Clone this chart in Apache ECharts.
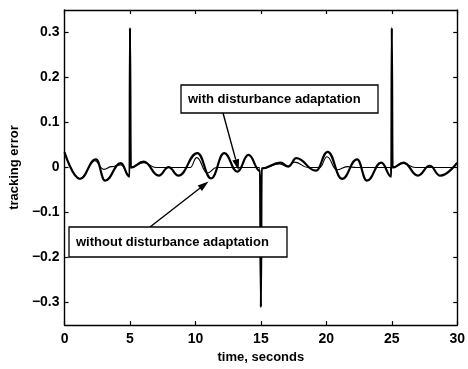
<!DOCTYPE html>
<html><head><meta charset="utf-8">
<script src="https://cdn.jsdelivr.net/npm/echarts@6/dist/echarts.min.js"></script>
<style>html,body{margin:0;padding:0;background:#fff}#c{width:468px;height:369px}</style>
</head><body><div id="c"></div>
<script>
const xTicks = [0, 5, 10, 15, 20, 25, 30];
const yTicks = [-0.3, -0.2, -0.1, 0, 0.1, 0.2, 0.3];
const withoutAdaptation = [
  [0,0.034],[1.17,-0.025],[2.4,0.018],[3.1,-0.029],[4.3,0.01],[4.97,-0.02],[5.0,0.31],[5.06,0.0],
  [6.05,0.013],[7.2,-0.018],[7.95,0.001],[8.7,-0.018],[10.15,0.032],[11.2,-0.024],[12.2,0.032],
  [13.2,-0.009],[14.05,0.028],[14.95,-0.008],[15.0,-0.31],[15.06,-0.002],[16.5,0.011],[17.1,0.002],
  [17.7,0.021],[19.2,-0.007],[20.1,0.035],[21.2,-0.025],[22.35,0.018],[23.1,-0.029],[24.2,0.011],
  [24.97,-0.02],[25.0,0.31],[25.06,0.0],[25.9,0.011],[27.0,-0.018],[27.9,0.004],[28.7,-0.018],[30,0.011]
];
const withAdaptation = [
  [0,0.034],[1.17,-0.025],[2.3,0.015],[3.0,-0.004],[3.6,0.002],[4.3,0.006],[4.97,-0.018],[5.0,0.31],[5.06,0.0],
  [6.05,0.011],[7.0,0.0],[9.6,0.0],[10.1,0.022],[10.9,-0.012],[11.6,0.0],[14.9,0.0],[15.0,-0.31],[15.06,-0.002],
  [16.4,0.008],[17.0,0.003],[17.6,0.012],[18.6,0.0],[19.5,0.0],[20.05,0.024],[20.8,-0.005],[21.6,0.002],[22.3,0.0],
  [24.9,0.0],[24.97,-0.015],[25.0,0.31],[25.06,0.0],[25.9,0.009],[26.8,0.0],[30,0.0]
];
const labelWith = 'with disturbance adaptation';
const labelWithout = 'without disturbance adaptation';
const arrowTipWith = [13.3, -0.006];
const arrowTipWithout = [11.0, -0.031];

const font = '"Liberation Sans", Arial, sans-serif';
const chart = echarts.init(document.getElementById('c'), null, {renderer: 'canvas'});
const lineStyleAxis = {color: '#000', width: 1.4};
function xAx(pos, showLabel) {
  return {
    type: 'value', min: 0, max: 30, interval: 5, position: pos,
    axisLine: {show: true, onZero: false, lineStyle: lineStyleAxis},
    axisTick: {show: true, inside: true, length: 4, lineStyle: {color: '#000', width: 1.2}},
    axisLabel: {show: showLabel, color: '#000', fontSize: 14, fontWeight: 'bold', fontFamily: font, margin: 7,
      formatter: v => xTicks.includes(v) ? String(v) : ''},
    splitLine: {show: false},
    name: showLabel ? 'time, seconds' : '', nameLocation: 'middle', nameGap: 24,
    nameTextStyle: {color: '#000', fontSize: 13, fontWeight: 'bold', fontFamily: font}
  };
}
function yAx(pos, showLabel) {
  return {
    type: 'value', min: -0.35, max: 0.35, interval: 0.05, position: pos,
    axisLine: {show: true, onZero: false, lineStyle: lineStyleAxis},
    axisTick: {show: true, inside: true, length: 4, customValues: yTicks, lineStyle: {color: '#000', width: 1.2}},
    axisLabel: {show: showLabel, customValues: yTicks, color: '#000', fontSize: 14, fontWeight: 'bold', fontFamily: font, margin: 5,
      formatter: v => Math.abs(v) < 1e-9 ? '0' : (v < 0 ? '\u2212' : '') + Math.abs(v).toFixed(1)},
    splitLine: {show: false},
    name: showLabel ? 'tracking error' : '', nameLocation: 'middle', nameGap: 36, nameRotate: 90,
    nameTextStyle: {color: '#000', fontSize: 13, fontWeight: 'bold', fontFamily: font}
  };
}
chart.setOption({
  animation: false,
  grid: {left: 61, right: 8, top: 10, bottom: 40},
  xAxis: [xAx('bottom', true), xAx('top', false)],
  yAxis: [yAx('left', true), yAx('right', false)],
  series: [
    {type: 'line', data: withoutAdaptation, showSymbol: false, smooth: 0.45, smoothMonotone: 'x',
     lineStyle: {color: '#000', width: 2.2}, z: 3},
    {type: 'line', data: withAdaptation, showSymbol: false, smooth: 0.45, smoothMonotone: 'x',
     lineStyle: {color: '#000', width: 1.1}, z: 4}
  ]
});

function arrow(from, tip) {
  const dx = tip[0] - from[0], dy = tip[1] - from[1];
  const len = Math.hypot(dx, dy), ux = dx / len, uy = dy / len;
  const hl = 11, hw = 3.5;
  const bx = tip[0] - ux * hl, by = tip[1] - uy * hl;
  return [
    {type: 'line', shape: {x1: from[0], y1: from[1], x2: bx, y2: by}, style: {stroke: '#000', lineWidth: 1.4}, z: 20},
    {type: 'polygon', shape: {points: [tip, [bx - uy * hw, by + ux * hw], [bx + uy * hw, by - ux * hw]]},
     style: {fill: '#000'}, z: 20}
  ];
}
function box(x, y, w, h, text) {
  return [
    {type: 'rect', shape: {x: x, y: y, width: w, height: h}, style: {fill: '#fff', stroke: '#000', lineWidth: 1.3}, z: 21},
    {type: 'text', x: x + 7, y: y + h / 2, style: {text: text, fill: '#000', font: 'bold 13px ' + font,
      textVerticalAlign: 'middle', textAlign: 'left'}, z: 22}
  ];
}
const tipWith = chart.convertToPixel({gridIndex: 0}, arrowTipWith);
const tipWithout = chart.convertToPixel({gridIndex: 0}, arrowTipWithout);
chart.setOption({
  graphic: [].concat(
    arrow([223, 113], tipWith),
    arrow([150, 227], tipWithout),
    box(181, 85, 197, 28, labelWith),
    box(69, 227, 218, 30, labelWithout)
  )
});
</script></body></html>
